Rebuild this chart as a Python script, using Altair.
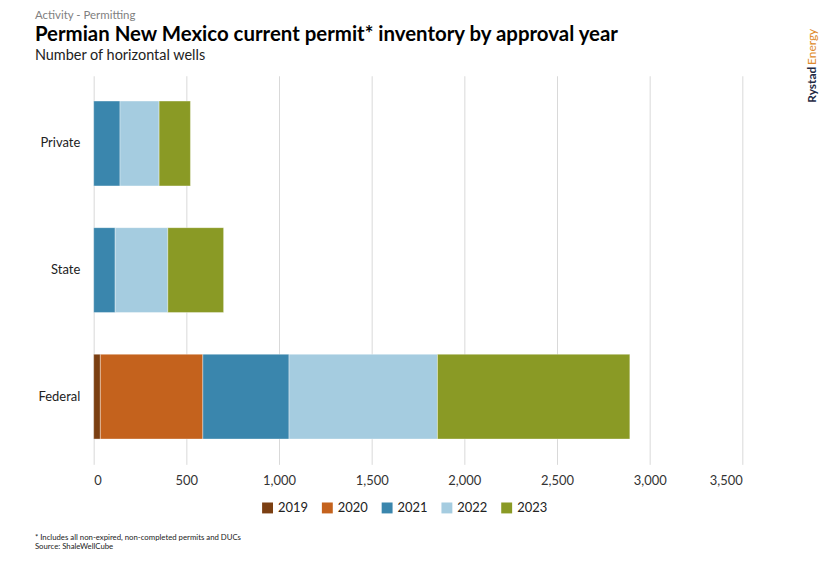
import altair as alt
import pandas as pd

categories = ["Private", "State", "Federal"]
years = ["2019", "2020", "2021", "2022", "2023"]
private_vals = [0, 0, 142, 211, 169]
state_vals = [0, 0, 116, 284, 301]
federal_vals = [36, 553, 465, 801, 1038]
colors = ["#7B3F12", "#C4621D", "#3A86AD", "#A5CCE0", "#8A9A25"]
x_ticks = [0, 500, 1000, 1500, 2000, 2500, 3000, 3500]

rows = []
for cat, vals in zip(categories, [private_vals, state_vals, federal_vals]):
    for i, (y, v) in enumerate(zip(years, vals)):
        rows.append({"category": cat, "year": y, "wells": v, "ord": i})
df = pd.DataFrame(rows)

FONT = "Lato"

bars = alt.Chart(df).mark_bar(stroke="#ffffff", strokeWidth=0.6, strokeOpacity=0.6).encode(
    y=alt.Y("category:N", sort=categories, title=None,
            scale=alt.Scale(paddingInner=0.33, paddingOuter=0.2),
            axis=alt.Axis(labelFont=FONT, labelFontSize=13, labelColor="#222", ticks=False,
                          domain=False, labelPadding=14, grid=False)),
    x=alt.X("wells:Q", title=None, stack="zero",
            scale=alt.Scale(domain=[0, 3500], nice=False),
            axis=alt.Axis(values=x_ticks, format=",d", labelFont=FONT, labelFontSize=13,
                          labelColor="#333", ticks=False, domain=False, grid=True,
                          gridColor="#d9d9d9", labelPadding=10)),
    color=alt.Color("year:N", sort=years,
                    scale=alt.Scale(domain=years, range=colors),
                    legend=alt.Legend(title=None, orient="none", direction="horizontal",
                                      legendX=168, legendY=427, symbolType="square",
                                      symbolSize=120, symbolStrokeWidth=0,
                                      labelFont=FONT, labelFontSize=13, labelColor="#222",
                                      columnPadding=12)),
    order=alt.Order("ord:Q"),
)

def txt(s, x, y, size, color="#000", weight="normal", angle=0, align="left"):
    return alt.Chart(pd.DataFrame({"t": [s]})).mark_text(
        text=s, font=FONT, fontSize=size, color=color, fontWeight=weight,
        align=align, baseline="middle", angle=angle
    ).encode(x=alt.value(x), y=alt.value(y))

ox, oy = 94, 75
texts = [
    txt("Activity - Permitting", 35 - ox, 15 - oy, 11.5, "#7f7f7f"),
    txt("Permian New Mexico current permit* inventory by approval year", 35 - ox, 34 - oy, 20.5, "#000", "bold"),
    txt("Number of horizontal wells", 35 - ox, 55 - oy, 14.5, "#222"),
    txt("* Includes all non-expired, non-completed permits and DUCs", 35 - ox, 539 - oy, 7.8, "#222"),
    txt("Source: ShaleWellCube", 35 - ox, 548 - oy, 7.8, "#222"),
    txt("Rystad", 815 - ox, 84 - oy, 12, "#1f2a44", "bold", 270, "center"),
    txt("Energy", 815 - ox, 46 - oy, 12, "#E08A2B", "normal", 270, "center"),
]

chart = alt.layer(bars, *texts).properties(
    width=651, height=390,
    background="#ffffff",
    autosize=alt.AutoSizeParams(type="none"),
    padding={"left": ox - 8, "top": oy - 8, "right": 88, "bottom": 105},
).configure_view(stroke=None, strokeWidth=0)

chart.save("out.html", embed_options={"renderer": "svg", "actions": False})
